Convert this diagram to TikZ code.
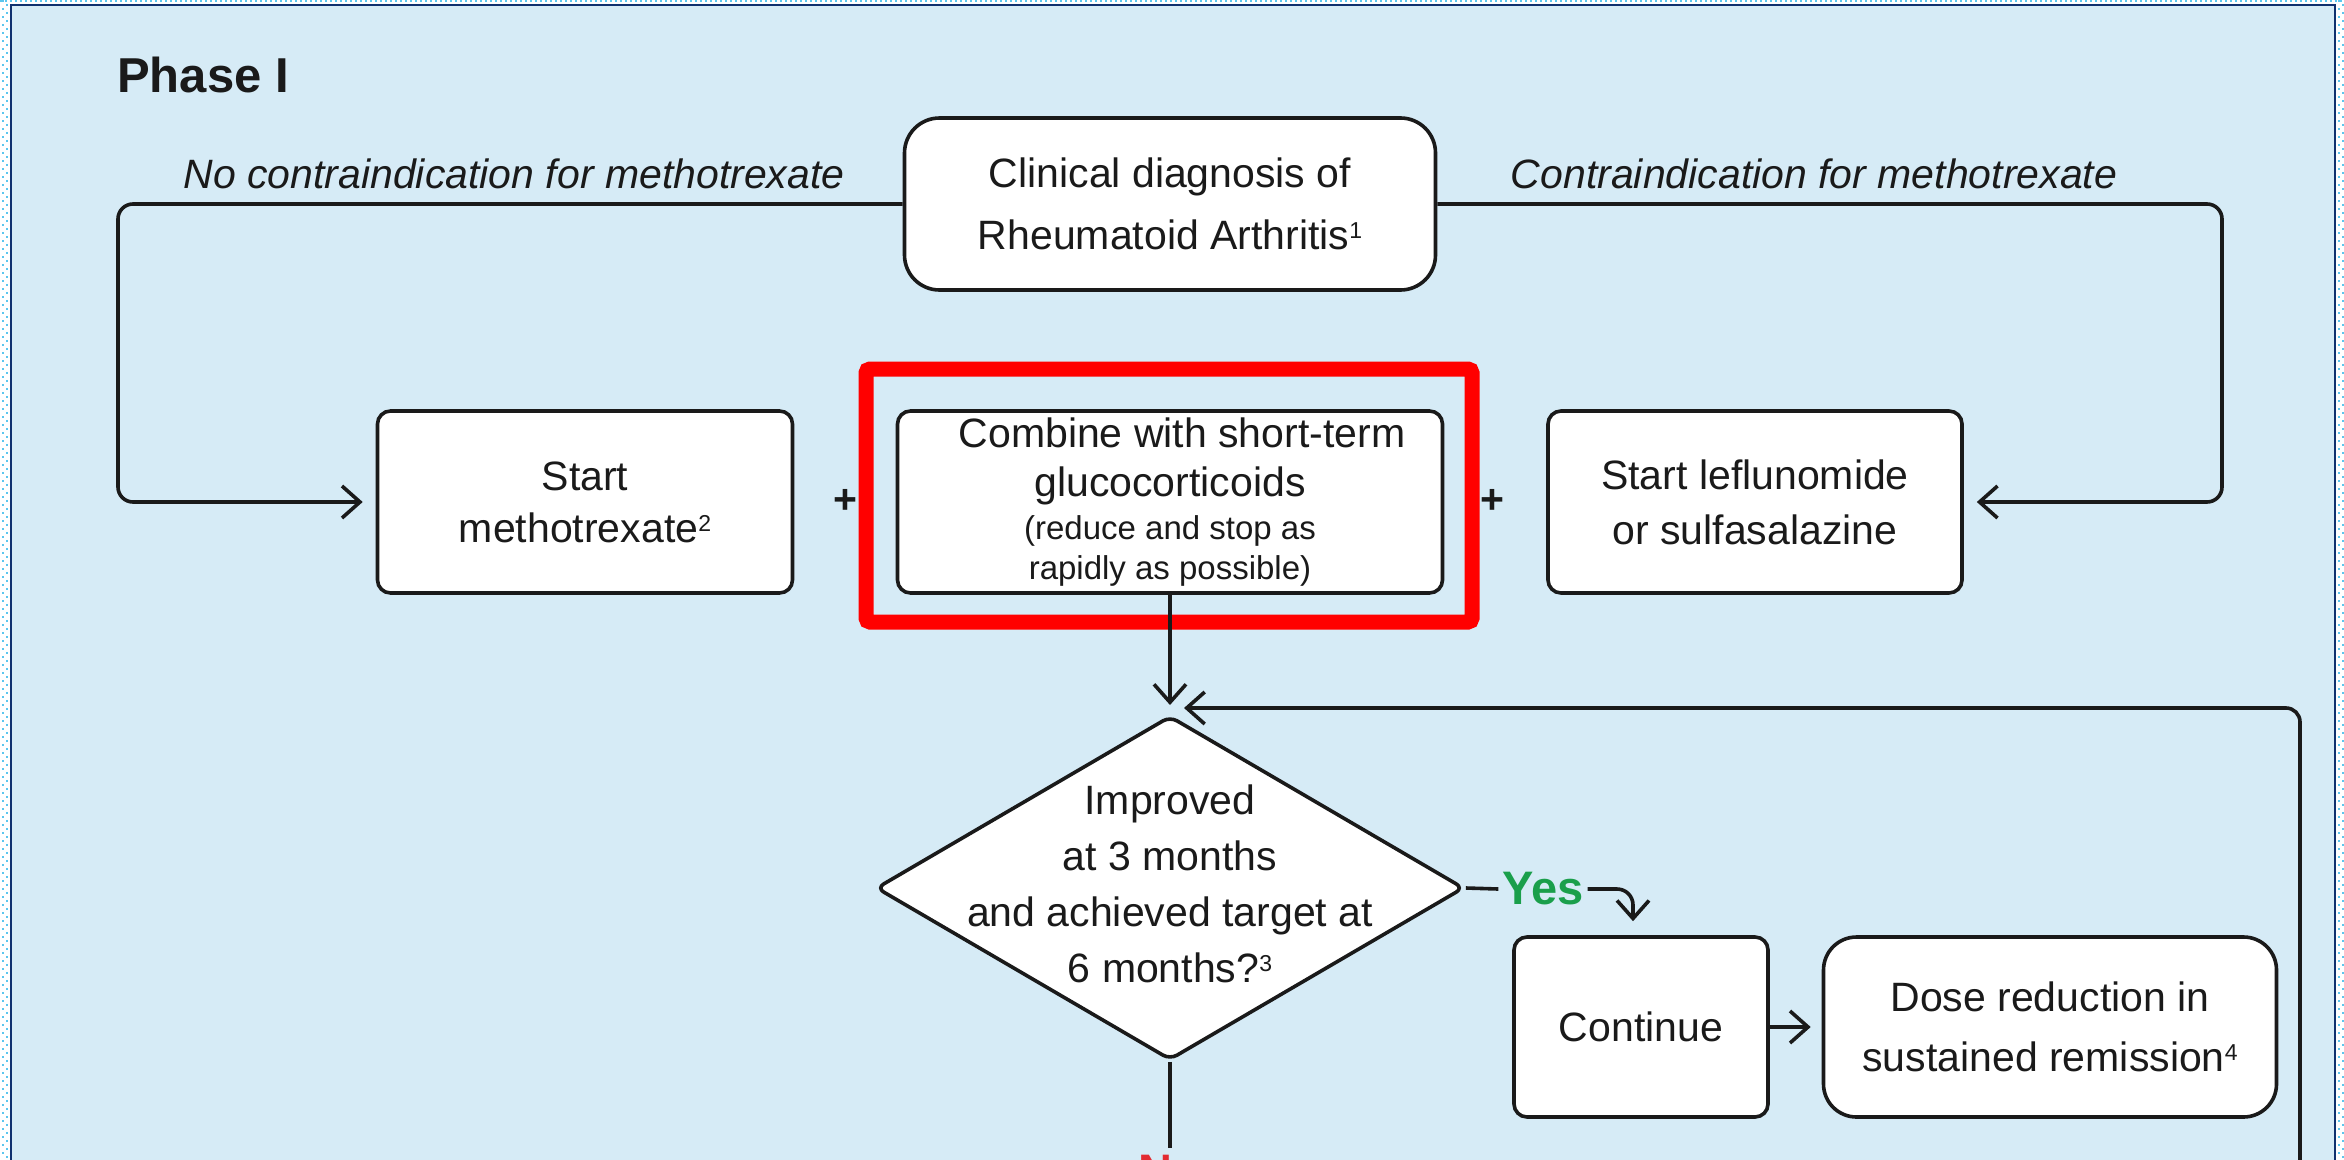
\documentclass[tikz,border=0pt]{standalone}
\usepackage{fontspec}
\setmainfont{Liberation Sans}
\usetikzlibrary{arrows.meta,shapes.geometric}

\definecolor{panelbg}{HTML}{D6EBF6}
\definecolor{navyedge}{HTML}{10306E}
\definecolor{dotblue}{HTML}{5CC6EE}
\definecolor{ink}{HTML}{1A1A1A}
\definecolor{hlred}{HTML}{FF0000}
\definecolor{yesgreen}{HTML}{1A9F4B}
\definecolor{nored}{HTML}{E32B32}

\newcommand{\bodyfont}{\fontsize{41}{49}\selectfont}
\newcommand{\smallbody}{\fontsize{33}{40}\selectfont}
\newcommand{\supnum}[1]{\raisebox{11pt}{\fontsize{23}{23}\selectfont #1}}

\tikzset{
  rbox/.style={draw=ink, line width=3.6pt, fill=white, rounded corners=13pt,
    align=center, inner sep=0pt, text=ink, font=\bodyfont},
  conn/.style={draw=ink, line width=3.6pt},
  arr/.style={conn, -{Straight Barb[length=18pt,width=32pt]}},
  branchlabel/.style={font=\bodyfont\itshape, text=ink, inner sep=0pt},
  plussign/.style={font=\bodyfont\bfseries, text=ink, inner sep=0pt},
  decision/.style={diamond, draw=ink, line width=3.6pt, fill=white,
    minimum width=588pt, minimum height=344pt, inner sep=0pt, rounded corners=8pt},
}

\begin{document}
\begin{tikzpicture}[x=1pt,y=-1pt]
\useasboundingbox (0,0) rectangle (2344,1159);

% page and panel
\fill[white] (0,0) rectangle (2344,1159);
\fill[panelbg] (11,5) rectangle (2335,1175);
\draw[navyedge, line width=2pt] (11,1175) -- (11,5) -- (2335,5) -- (2335,1175);

% dotted edging round the panel
\draw[dotblue, line width=2pt, dash pattern=on 2pt off 6pt] (3,0) -- (3,1159);
\draw[dotblue, line width=2pt, dash pattern=on 2pt off 6pt, dash phase=4pt] (7,0) -- (7,1159);
\draw[dotblue, line width=2pt, dash pattern=on 2pt off 3pt] (0,1.2) -- (2344,1.2);
\draw[dotblue, line width=2pt, dash pattern=on 2pt off 6pt] (2339,0) -- (2339,1159);
\draw[dotblue, line width=2pt, dash pattern=on 2pt off 6pt, dash phase=4pt] (2343,0) -- (2343,1159);

% heading
\node[anchor=base west, inner sep=0pt, text=ink, font=\fontsize{49}{58}\selectfont\bfseries]
  (phase) at (117,92) {Phase I};

% branch labels
\node[branchlabel] (nocontra) at (514,174) {No contraindication for methotrexate};
\node[branchlabel] (contra) at (1814,174) {Contraindication for methotrexate};

% boxes
\node[rbox, minimum width=531pt, minimum height=172pt, rounded corners=35pt]
  (diag) at (1170,204) {Clinical diagnosis of\\[13pt]Rheumatoid Arthritis\supnum{1}};

\node[rbox, minimum width=415pt, minimum height=182pt]
  (mtx) at (585,502) {Start\\[3pt]methotrexate\supnum{2}};

\node[rbox, minimum width=545pt, minimum height=182pt, font=\fontsize{41}{40}\selectfont]
  (gc) at (1170,502) {\hspace*{24pt}Combine with short-term\\[9pt]glucocorticoids\\[3pt]
  \smallbody(reduce and stop as\\\smallbody rapidly as possible)};

\node[rbox, minimum width=414pt, minimum height=182pt]
  (lef) at (1755,502) {Start leflunomide\\[6pt]or sulfasalazine};

\node[plussign] (plusA) at (845,501) {+};
\node[plussign] (plusB) at (1492,501) {+};

% highlight frame round the glucocorticoid step
\draw[hlred, line width=15pt, rounded corners=4pt] (866,369) rectangle (1472,622);

% decision
\node[decision] (dia) at (1170,888) {};
\node[align=center, inner sep=0pt, text=ink, font=\bodyfont]
  (diatext) at (1170,884) {Improved\\[7pt]at 3 months\\[7pt]and achieved target at\\[7pt]6 months?\supnum{3}};

\node[inner sep=4pt, text=yesgreen, font=\fontsize{47}{56}\selectfont\bfseries]
  (yes) at (1543,889) {Yes};

\node[rbox, minimum width=254pt, minimum height=180pt]
  (cont) at (1641,1027) {Continue};
\node[rbox, minimum width=453pt, minimum height=180pt, rounded corners=33pt]
  (dose) at (2050,1027) {Dose reduction in\\[11pt]sustained remission\supnum{4}};

\node[anchor=north, inner sep=0pt, text=nored, font=\fontsize{47}{56}\selectfont\bfseries]
  (nolabel) at (1170,1155) {No};

% helper points for the connectors
\coordinate (leftrail) at (118,0);
\coordinate (rightrail) at (2222,0);
\coordinate (mergetop) at (1170,705);
\coordinate (mergeside) at (1184,708);
\coordinate (loopfoot) at (2300,1180);
\coordinate (nofoot) at (1170,1148);

% connectors
\draw[arr, rounded corners=15pt, shorten >=13pt] (diag.west) -- (diag.west -| leftrail) |- (mtx.west);
\draw[arr, rounded corners=15pt, shorten >=13pt] (diag.east) -- (diag.east -| rightrail) |- (lef.east);
\draw[arr] (gc.south) -- (mergetop);
\draw[arr, rounded corners=14pt] (loopfoot) |- (mergeside);
\draw[conn] (dia.east) -- (yes.west);
\draw[arr, rounded corners=16pt, shorten >=14pt] (yes.east) -| ([xshift=-8pt]cont.north);
\draw[arr, shorten >=11pt] (cont.east) -- (dose.west);
\draw[conn] (dia.south) -- (nofoot);
\end{tikzpicture}
\end{document}
